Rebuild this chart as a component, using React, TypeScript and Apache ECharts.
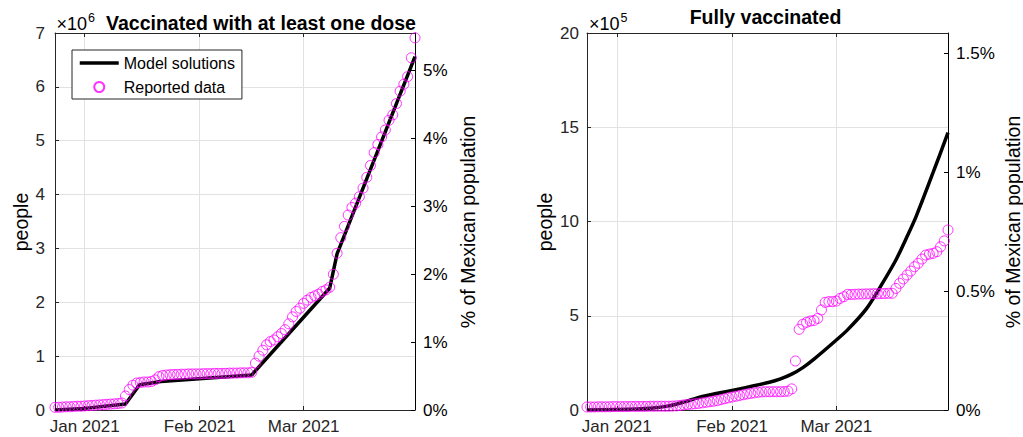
import { useEffect, useRef } from 'react';
import * as echarts from 'echarts';

// Days are counted from 1 Jan 2021 (day 0); the x range runs 24 Dec 2020 .. 31 Mar 2021.
const FIRST_DAY = -8;
const LAST_DAY = 89;
const POPULATION_MX = 126.0e6;

const monthTicks = [0, 31, 59];
const monthTickLabels = ['Jan 2021', 'Feb 2021', 'Mar 2021'];

// Reported people with at least one dose (x10^6), one value per day from FIRST_DAY
const oneDoseReported = [
  0.05, 0.05, 0.055, 0.06, 0.06, 0.065, 0.07, 0.07, 0.075, 0.08, 0.085, 0.09, 0.095, 0.1, 0.105, 0.11, 0.115, 0.12, 0.13,
  0.26, 0.38, 0.46, 0.5, 0.51, 0.52, 0.52, 0.53, 0.56, 0.62, 0.64, 0.65, 0.655, 0.66, 0.66, 0.665, 0.665, 0.67, 0.67, 0.67,
  0.67, 0.675, 0.675, 0.675, 0.68, 0.68, 0.68, 0.68, 0.685, 0.685, 0.685, 0.69, 0.69, 0.69, 0.7,
  0.87, 1.0, 1.11, 1.21, 1.27, 1.3, 1.36, 1.42, 1.49, 1.6, 1.73, 1.83, 1.89, 1.98, 2.04, 2.09, 2.12, 2.15, 2.2, 2.23, 2.28,
  2.52, 2.91, 3.2, 3.41, 3.62, 3.76, 3.84, 3.96, 4.12, 4.32, 4.54, 4.78, 4.93, 5.07, 5.2, 5.38, 5.48, 5.69, 5.92, 6.05,
  6.19, 6.54, 6.91,
];

// Reported fully vaccinated people (x10^5), one value per day from FIRST_DAY
const fullyReported = [
  0.16, 0.16, 0.16, 0.17, 0.17, 0.17, 0.17, 0.18, 0.18, 0.18, 0.18, 0.18, 0.19, 0.19, 0.19, 0.19, 0.19, 0.2, 0.2, 0.2, 0.2, 0.2, 0.2,
  0.21, 0.22, 0.24, 0.27, 0.29, 0.31, 0.33, 0.35, 0.38, 0.41, 0.44, 0.47, 0.5, 0.55, 0.6, 0.65,
  0.69, 0.73, 0.77, 0.81, 0.85, 0.88, 0.91, 0.94, 0.96, 0.97, 0.97, 0.97, 0.97, 0.97, 0.98, 1.0, 1.12,
  2.6, 4.28, 4.55, 4.65, 4.72, 4.75, 4.86, 5.31, 5.71, 5.75, 5.75, 5.78, 5.92, 6.01, 6.13,
  6.13, 6.14, 6.15, 6.15, 6.16, 6.16, 6.17, 6.17, 6.18, 6.18, 6.19, 6.19,
  6.45, 6.72, 6.95, 7.16, 7.37, 7.6, 7.78, 8.01, 8.22, 8.27, 8.31, 8.4, 8.66, 8.97, 9.55,
];

// Model solutions
const oneDoseModelDays = [-8, 0, 11, 14.8, 20.5, 45, 66, 68, 89];
const oneDoseModel = [0.0, 0.03, 0.11, 0.47, 0.53, 0.65, 2.26, 2.9, 6.56]; // x10^6
const fullyModelDays = [-8, 0, 9, 14, 18, 23, 32, 41, 44, 47, 50, 53, 58, 62, 67, 71, 75, 78, 80.5, 85, 89];
const fullyModel = [0, 0.02, 0.09, 0.22, 0.42, 0.72, 1.08, 1.47, 1.65, 1.9, 2.25, 2.7, 3.54, 4.25, 5.35, 6.6, 7.96, 9.2, 10.3, 12.6, 14.71]; // x10^5

const oneDosePeopleMax = 7; // x10^6
const fullyPeopleMax = 20; // x10^5
const oneDosePctTicks = [0, 1, 2, 3, 4, 5];
const fullyPctTicks = [0, 0.5, 1, 1.5];

const FONT = '"Liberation Sans", Arial, Helvetica, sans-serif';
const INK = '#262626';
const GRID_LINE = '#e2e2e2';
const MAGENTA = '#ff00ff';
const MODEL_WIDTH = 3.5;

const reportedPoints = (values: number[]) => values.map((v, i) => [FIRST_DAY + i, v]);
const modelPoints = (days: number[], values: number[]) => days.map((d, i) => [d, values[i]]);

function bottomAxis(gridIndex: number) {
  return {
    type: 'value',
    gridIndex,
    position: 'bottom',
    min: FIRST_DAY,
    max: LAST_DAY,
    axisLine: { show: true, onZero: false, lineStyle: { color: INK, width: 1 } },
    axisTick: { show: true, inside: true, length: 4, customValues: monthTicks, lineStyle: { color: INK } },
    axisLabel: {
      show: true,
      customValues: monthTicks,
      formatter: (v: number) => monthTickLabels[monthTicks.indexOf(v)] ?? '',
      fontSize: 17,
      color: INK,
      fontFamily: FONT,
      margin: 8,
    },
    splitLine: { show: true, lineStyle: { color: GRID_LINE, width: 1 } },
  };
}

function topAxis(gridIndex: number) {
  return {
    type: 'value',
    gridIndex,
    position: 'top',
    min: FIRST_DAY,
    max: LAST_DAY,
    axisLine: { show: true, onZero: false, lineStyle: { color: INK, width: 1 } },
    axisTick: { show: true, inside: true, length: 4, customValues: monthTicks, lineStyle: { color: INK } },
    axisLabel: { show: false },
    splitLine: { show: false },
  };
}

function peopleAxis(gridIndex: number, max: number, interval: number, margin: number) {
  return {
    type: 'value',
    gridIndex,
    position: 'left',
    min: 0,
    max,
    interval,
    axisLine: { show: true, onZero: false, lineStyle: { color: INK, width: 1 } },
    axisTick: { show: true, inside: true, length: 4, lineStyle: { color: INK } },
    axisLabel: { show: true, fontSize: 17, color: INK, fontFamily: FONT, margin },
    splitLine: { show: true, lineStyle: { color: GRID_LINE, width: 1 } },
  };
}

function percentAxis(gridIndex: number, max: number, ticks: number[]) {
  return {
    type: 'value',
    gridIndex,
    position: 'right',
    min: 0,
    max,
    axisLine: { show: true, onZero: false, lineStyle: { color: '#000', width: 1 } },
    axisTick: { show: true, inside: true, length: 4, customValues: ticks, lineStyle: { color: '#000' } },
    axisLabel: {
      show: true,
      customValues: ticks,
      formatter: (v: number) => `${v}%`,
      fontSize: 17,
      color: '#000',
      fontFamily: FONT,
      margin: 8,
    },
    splitLine: { show: false },
  };
}

function txt(x: number, y: number, text: string, fontSize: number, opts: Record<string, unknown> = {}) {
  const { rotation, fontWeight, align } = opts as { rotation?: number; fontWeight?: string; align?: string };
  return {
    type: 'text',
    x,
    y,
    rotation: rotation ?? 0,
    silent: true,
    style: {
      text,
      fontSize,
      fontFamily: FONT,
      fontWeight: fontWeight ?? 'normal',
      fill: '#000',
      align: align ?? 'center',
      verticalAlign: 'middle',
    },
  };
}

export default function App() {
  const ref = useRef<HTMLDivElement>(null);

  useEffect(() => {
    if (!ref.current) return;
    const chart = echarts.init(ref.current, null, { renderer: 'svg' });

    const oneDosePctMax = ((oneDosePeopleMax * 1e6) / POPULATION_MX) * 100;
    const fullyPctMax = ((fullyPeopleMax * 1e5) / POPULATION_MX) * 100;

    chart.setOption({
      animation: false,
      backgroundColor: '#fff',
      textStyle: { fontFamily: FONT },
      grid: [
        { left: 55, top: 33, width: 360, height: 377, outerBoundsMode: 'none' },
        { left: 587, top: 33, width: 361, height: 377, outerBoundsMode: 'none' },
      ],
      xAxis: [bottomAxis(0), topAxis(0), bottomAxis(1), topAxis(1)],
      yAxis: [
        peopleAxis(0, oneDosePeopleMax, 1, 10),
        percentAxis(0, oneDosePctMax, oneDosePctTicks),
        peopleAxis(1, fullyPeopleMax, 5, 8),
        percentAxis(1, fullyPctMax, fullyPctTicks),
      ],
      legend: {
        show: true,
        left: 72,
        top: 50,
        orient: 'vertical',
        data: ['Model solutions', 'Reported data'],
        backgroundColor: '#fff',
        borderColor: INK,
        borderWidth: 1,
        borderRadius: 0,
        padding: [5, 7, 4, 6],
        itemGap: 8,
        itemWidth: 39,
        itemHeight: 10,
        selectedMode: false,
        lineStyle: { width: MODEL_WIDTH },
        textStyle: { fontSize: 16, color: '#000', fontFamily: FONT },
      },
      series: [
        {
          name: 'Model solutions',
          type: 'line',
          xAxisIndex: 0,
          yAxisIndex: 0,
          data: modelPoints(oneDoseModelDays, oneDoseModel),
          symbol: 'none',
          showSymbol: false,
          lineStyle: { color: '#000', width: MODEL_WIDTH },
          // no markers: keeps the legend key a plain line
          itemStyle: { color: '#000', opacity: 0 },
          z: 2,
        },
        {
          name: 'Reported data',
          type: 'scatter',
          xAxisIndex: 0,
          yAxisIndex: 0,
          data: reportedPoints(oneDoseReported),
          symbol: 'circle',
          symbolSize: 10,
          itemStyle: { color: 'rgba(0,0,0,0)', borderColor: MAGENTA, borderWidth: 1 },
          z: 3,
        },
        {
          name: 'Fully model',
          type: 'line',
          xAxisIndex: 2,
          yAxisIndex: 2,
          data: modelPoints(fullyModelDays, fullyModel),
          symbol: 'none',
          showSymbol: false,
          smooth: 0.3,
          lineStyle: { color: '#000', width: MODEL_WIDTH },
          itemStyle: { color: '#000', opacity: 0 },
          z: 2,
        },
        {
          name: 'Fully reported',
          type: 'scatter',
          xAxisIndex: 2,
          yAxisIndex: 2,
          data: reportedPoints(fullyReported),
          symbol: 'circle',
          symbolSize: 10,
          itemStyle: { color: 'rgba(0,0,0,0)', borderColor: MAGENTA, borderWidth: 1 },
          z: 3,
        },
      ],
      graphic: [
        txt(56.5, 24.3, '×10', 18, { align: 'left' }),
        txt(88, 17.5, '6', 12.5, { align: 'left' }),
        txt(261, 23.4, 'Vaccinated with at least one dose', 19.5, { fontWeight: 'bold' }),
        txt(589, 23.6, '×10', 18, { align: 'left' }),
        txt(620.5, 17.8, '5', 12.5, { align: 'left' }),
        txt(765.5, 17.4, 'Fully vaccinated', 19.5, { fontWeight: 'bold' }),
        txt(21, 222, 'people', 19.5, { rotation: Math.PI / 2 }),
        txt(468, 222, '% of Mexican population', 19.5, { rotation: Math.PI / 2 }),
        txt(545, 222, 'people', 19.5, { rotation: Math.PI / 2 }),
        txt(1013, 222, '% of Mexican population', 19.5, { rotation: Math.PI / 2 }),
      ],
    });

    return () => chart.dispose();
  }, []);

  return (
    <div
      ref={ref}
      style={{ position: 'absolute', left: 0, top: 0, width: 1023, height: 437, background: '#fff' }}
    />
  );
}
